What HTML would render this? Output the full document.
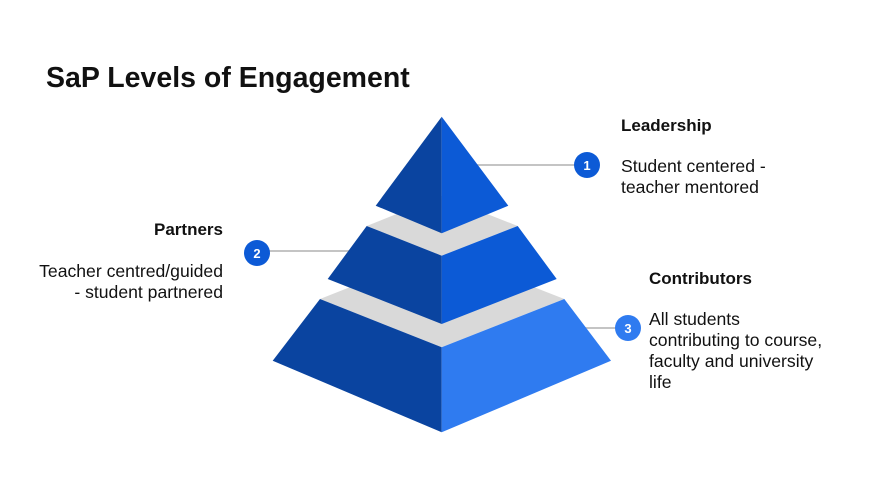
<!DOCTYPE html>
<html><head><meta charset="utf-8"><style>
html,body{margin:0;padding:0;background:#fff;}
svg{display:block;}
text{font-family:"Liberation Sans",sans-serif;fill:#111;}
</style></head><body>
<svg width="884" height="500" viewBox="0 0 884 500" xmlns="http://www.w3.org/2000/svg">
<text x="46" y="87" font-size="28.5" font-weight="bold">SaP Levels of Engagement</text>
<line x1="470" y1="165" x2="587" y2="165" stroke="#c4c4c4" stroke-width="2"/>
<line x1="257" y1="251" x2="350" y2="251" stroke="#c4c4c4" stroke-width="2"/>
<line x1="585" y1="328" x2="628" y2="328" stroke="#c4c4c4" stroke-width="2"/>
<polygon points="366.7,226 441.7,196 517.7,226 441.7,255.7" fill="#d9d9d9"/>
<polygon points="320,299 441.7,251 564.3,299 441.7,347.3" fill="#d9d9d9"/>
<polygon points="441.7,116.7 375.7,205.7 441.7,233.3" fill="#0a44a0"/>
<polygon points="441.7,116.7 508.3,205.7 441.7,233.3" fill="#0c5ad6"/>
<polygon points="366.7,226 327.7,279 441.7,324 441.7,255.7" fill="#0a44a0"/>
<polygon points="517.7,226 556.7,279 441.7,324 441.7,255.7" fill="#0c5ad6"/>
<polygon points="320,299 272.7,360.7 441.7,432.3 441.7,347.3" fill="#0a44a0"/>
<polygon points="564.3,299 611,360.7 441.7,432.3 441.7,347.3" fill="#2f7bf0"/>
<circle cx="587" cy="165" r="13" fill="#0c5ad6"/>
<text x="587" y="170" font-size="13" font-weight="bold" text-anchor="middle" style="fill:#fff">1</text>
<circle cx="257" cy="253" r="13" fill="#0c5ad6"/>
<text x="257" y="258" font-size="13" font-weight="bold" text-anchor="middle" style="fill:#fff">2</text>
<circle cx="628" cy="328" r="13" fill="#2f7bf0"/>
<text x="628" y="333" font-size="13" font-weight="bold" text-anchor="middle" style="fill:#fff">3</text>
<text x="621" y="131" font-size="17" font-weight="bold">Leadership</text>
<text x="621" y="172" font-size="17.6">Student centered -</text>
<text x="621" y="193" font-size="17.6">teacher mentored</text>
<text x="223" y="235" font-size="17" font-weight="bold" text-anchor="end">Partners</text>
<text x="223" y="277" font-size="17.6" text-anchor="end">Teacher centred/guided</text>
<text x="223" y="298" font-size="17.6" text-anchor="end">- student partnered</text>
<text x="649" y="284" font-size="17" font-weight="bold">Contributors</text>
<text x="649" y="325" font-size="17.6">All students</text>
<text x="649" y="346" font-size="17.6">contributing to course,</text>
<text x="649" y="367" font-size="17.6">faculty and university</text>
<text x="649" y="388" font-size="17.6">life</text>
</svg>
</body></html>
